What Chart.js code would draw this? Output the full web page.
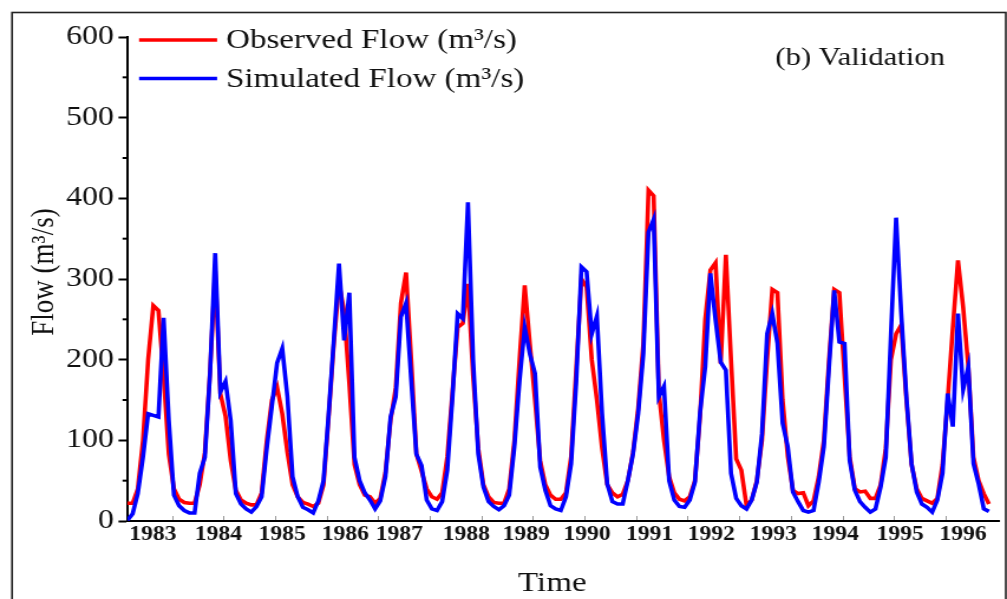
<!DOCTYPE html>
<html>
<head>
<meta charset="utf-8">
<title>Flow validation</title>
<script src="https://cdn.jsdelivr.net/npm/chart.js@4.4.0/dist/chart.umd.min.js"></script>
<style>
  html, body { margin: 0; padding: 0; background: #fff; overflow: hidden; }
</style>
</head>
<body>
<!-- drawn at 853 wide and shown at 1007, the figure is stretched sideways -->
<canvas id="flowChart" width="853" height="599" style="width:1007px;height:599px"></canvas>
<script>
// monthly flow, Jan 1983 .. Dec 1996 (m3/s)
var observed = [
  22, 22, 40, 100, 200, 267, 261, 180, 83, 40, 27, 23,      // 1983
  22, 22, 45, 85, 185, 310, 158, 130, 75, 38, 26, 22,       // 1984
  20, 20, 35, 100, 150, 166, 133, 85, 45, 30, 23, 21,       // 1985
  18, 22, 45, 130, 220, 295, 260, 170, 70, 45, 32, 30,      // 1986
  22, 28, 60, 125, 165, 270, 308, 200, 83, 62, 40, 30,      // 1987
  27, 35, 80, 160, 240, 245, 294, 180, 90, 45, 30, 23,      // 1988
  22, 22, 40, 100, 200, 292, 220, 150, 75, 45, 32, 27,      // 1989
  27, 35, 80, 190, 300, 290, 200, 150, 90, 45, 35, 30,      // 1990
  33, 50, 85, 140, 220, 410, 403, 160, 100, 55, 35, 27,     // 1991
  25, 30, 50, 130, 250, 311, 320, 195, 330, 200, 77, 63,    // 1992
  19, 26, 50, 100, 200, 287, 283, 150, 80, 38, 34, 35,      // 1993
  19, 25, 55, 100, 200, 287, 283, 180, 80, 40, 36, 37,      // 1994
  28, 28, 45, 90, 200, 232, 243, 150, 70, 40, 28, 25,       // 1995
  22, 28, 70, 150, 240, 323, 265, 191, 79, 50, 34, 21       // 1996
];
var simulated = [
  1, 9, 34, 79, 133, 131, 129, 252, 125, 32, 19, 13,        // 1983
  10, 10, 59, 79, 183, 332, 160, 173, 125, 34, 21, 15,      // 1984
  11, 18, 30, 90, 143, 196, 214, 154, 55, 30, 17, 14,       // 1985
  10, 25, 50, 133, 225, 319, 224, 283, 79, 50, 35, 26,      // 1986
  15, 25, 55, 129, 154, 253, 270, 175, 83, 69, 26, 15,      // 1987
  13, 24, 63, 154, 257, 251, 395, 200, 83, 42, 24, 18,      // 1988
  14, 19, 32, 92, 174, 240, 207, 183, 67, 38, 19, 15,       // 1989
  13, 30, 71, 174, 315, 309, 232, 254, 133, 46, 24, 21,     // 1990
  21, 50, 83, 133, 207, 358, 374, 154, 167, 50, 26, 18,     // 1991
  17, 26, 48, 135, 191, 307, 249, 197, 187, 59, 28, 19,     // 1992
  15, 26, 48, 108, 232, 257, 220, 121, 92, 36, 24, 13,      // 1993
  11, 13, 48, 92, 191, 286, 222, 220, 75, 38, 24, 17,       // 1994
  11, 15, 42, 79, 232, 376, 257, 154, 71, 36, 21, 17,       // 1995
  11, 26, 59, 158, 117, 257, 163, 191, 71, 46, 15, 12       // 1996
];
var yearLabels = ['1983', '1984', '1985', '1986', '1987', '1988', '1989',
                  '1990', '1991', '1992', '1993', '1994', '1995', '1996'];
// where each year label sits, in months from the first point
var yearTickAt = [4.9, 17.6, 30.0, 42.2, 52.7, 65.7, 77.3, 89.1, 101.2, 113.2, 125.2, 137.2, 149.8, 162.0];

var serif = '"Liberation Serif", "Times New Roman", serif';

function toPoints(arr) {
  return arr.map(function (v, i) { return { x: i, y: v }; });
}

function isYearTick(v) {
  return yearTickAt.indexOf(v) !== -1;
}

function line(ctx, x1, y1, x2, y2) {
  ctx.beginPath();
  ctx.moveTo(x1, y1);
  ctx.lineTo(x2, y2);
  ctx.stroke();
}

// frame, legend, captions and the short y ticks
var decor = {
  id: 'decor',
  afterDraw: function (chart) {
    var ctx = chart.ctx, area = chart.chartArea, ys = chart.scales.y;
    ctx.save();

    ctx.strokeStyle = '#222';
    ctx.lineWidth = 1.6;
    ctx.strokeRect(10.2, 12.5, 841.8, 620);

    ctx.strokeStyle = '#000';
    ctx.lineWidth = 2;
    ys.ticks.forEach(function (t) {
      if (t.value % 100 !== 0) {
        var py = ys.getPixelForValue(t.value);
        line(ctx, area.left - 4.2, py, area.left, py);
      }
    });

    ctx.font = '28px ' + serif;
    ctx.textAlign = 'left';
    ctx.textBaseline = 'middle';
    ctx.fillStyle = '#111';
    chart.data.datasets.forEach(function (ds, i) {
      var ly = 40 + i * 38.5;
      ctx.strokeStyle = ds.borderColor;
      ctx.lineWidth = 3.4;
      line(ctx, 117.8, ly, 183.9, ly);
      ctx.fillText(ds.label, 191.5, ly + 1);
    });

    ctx.font = '26px ' + serif;
    ctx.fillText('(b) Validation', 656.8, 58);

    ctx.font = '28px ' + serif;
    ctx.textAlign = 'center';
    ctx.fillText('Time', 467.8, 584);

    ctx.save();
    ctx.translate(38, 272);
    ctx.rotate(-Math.PI / 2);
    ctx.font = '27px ' + serif;
    ctx.fillText('Flow (m\u00b3/s)', 0, 0);
    ctx.restore();

    ctx.restore();
  }
};

new Chart(document.getElementById('flowChart'), {
  type: 'line',
  data: {
    datasets: [
      {
        label: 'Observed Flow (m\u00b3/s)',
        data: toPoints(observed),
        borderColor: '#ff0000',
        borderWidth: 3.6,
        pointRadius: 0,
        tension: 0,
        order: 2
      },
      {
        label: 'Simulated Flow (m\u00b3/s)',
        data: toPoints(simulated),
        borderColor: '#0000ff',
        borderWidth: 3.6,
        pointRadius: 0,
        tension: 0,
        order: 1
      }
    ]
  },
  options: {
    responsive: false,
    animation: false,
    events: [],
    layout: { padding: { left: 0, top: 37, right: 7, bottom: 0 } },
    plugins: {
      legend: { display: false },
      tooltip: { enabled: false }
    },
    scales: {
      x: {
        type: 'linear',
        min: 0,
        max: 168.9,
        border: { display: true, color: '#000', width: 2 },
        grid: {
          drawOnChartArea: false,
          tickLength: -5,
          tickWidth: 1,
          tickColor: function (c) {
            return c.tick && isYearTick(c.tick.value) ? 'rgba(0,0,0,0)' : '#999';
          }
        },
        afterBuildTicks: function (scale) {
          var ticks = yearTickAt.map(function (v) { return { value: v }; });
          for (var m = 8.7; m < 168; m += 10) ticks.push({ value: m });
          ticks.sort(function (a, b) { return a.value - b.value; });
          scale.ticks = ticks;
        },
        afterFit: function (scale) { scale.height = 78; },
        ticks: {
          autoSkip: false,
          maxRotation: 0,
          padding: 7,
          color: '#111',
          font: { family: serif, size: 20, weight: 'bold' },
          callback: function (v) {
            var k = yearTickAt.indexOf(v);
            return k === -1 ? '' : yearLabels[k];
          }
        }
      },
      y: {
        min: 0,
        max: 600,
        border: { display: true, color: '#000', width: 2 },
        grid: {
          drawOnChartArea: false,
          tickLength: 7.6,
          tickWidth: 2,
          tickColor: function (c) {
            return c.tick && c.tick.value % 100 === 0 ? '#000' : 'rgba(0,0,0,0)';
          }
        },
        afterFit: function (scale) { scale.width = 108; },
        ticks: {
          stepSize: 50,
          padding: 4,
          color: '#111',
          font: { family: serif, size: 27 },
          callback: function (v) { return v % 100 === 0 ? v : ''; }
        }
      }
    }
  },
  plugins: [decor]
});
</script>
</body>
</html>
